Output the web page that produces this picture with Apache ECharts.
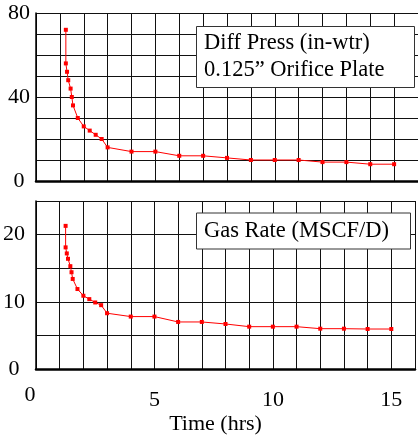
<!DOCTYPE html>
<html>
<head>
<meta charset="utf-8">
<script src="https://cdn.jsdelivr.net/npm/echarts@6/dist/echarts.min.js"></script>
<style>
  html, body { margin: 0; padding: 0; background: #fff; }
  #chart { width: 418px; height: 437px; }
</style>
</head>
<body>
<div id="chart"></div>
<script>
// time of each reading (hrs)
const timeHrs = [1.25, 1.25, 1.3, 1.35, 1.45, 1.5, 1.55, 1.75, 2, 2.25, 2.5, 2.75, 3,
                 4, 5, 6, 7, 8, 9, 10, 11, 12, 13, 14, 15];
const diffPress = [72, 56, 52, 48, 44, 40, 36, 30, 26, 24, 22, 20, 16,
                   14, 14, 12, 12, 11, 10, 10, 10, 9, 9, 8, 8];
const gasRate = [21.3, 18.1, 17.2, 16.4, 15.3, 14.4, 13.4, 11.9, 10.9, 10.4, 9.9, 9.5, 8.3,
                 7.8, 7.8, 7.0, 7.0, 6.7, 6.3, 6.3, 6.3, 6.0, 6.0, 5.95, 5.95];
const xTickLabels = [0, 5, 10, 15];
const pressTickLabels = [0, 40, 80];
const rateTickLabels = [0, 10, 20];

const FONT = 'Liberation Serif';
const chart = echarts.init(document.getElementById('chart'));

const pairs = (ys) => timeHrs.map((t, i) => [t, ys[i]]);

const gridLine = { show: true, lineStyle: { color: '#111', width: 1 } };

function xAxis(gridIndex, withLabels) {
    return {
        type: 'value', gridIndex: gridIndex,
        min: 0, max: 16, interval: 1,
        axisLine: { show: true, onZero: false, lineStyle: { color: '#000', width: 2.5 } },
        axisTick: { show: false },
        splitLine: gridLine,
        axisLabel: {
            show: withLabels,
            margin: 20,
            fontFamily: FONT, fontSize: 22, color: '#000',
            formatter: (v) => {
                if (v === 0) return '{z|0}';
                return xTickLabels.includes(v) ? String(v) : '';
            },
            rich: {
                z: { fontFamily: FONT, fontSize: 22, color: '#000', lineHeight: 12, padding: [0, 12, 0, 0] }
            }
        },
        name: withLabels ? 'Time (hrs)' : '',
        nameLocation: 'middle',
        nameGap: 44,
        nameMoveOverlap: false,
        nameTextStyle: { fontFamily: FONT, fontSize: 22, color: '#000', padding: [0, 20, 0, 0] }
    };
}

function yAxis(gridIndex, max, labels, margin) {
    return {
        type: 'value', gridIndex: gridIndex,
        min: 0, max: max, interval: max / (max === 80 ? 8 : 5),
        axisLine: { show: true, lineStyle: { color: '#000', width: 1.5 } },
        axisTick: { show: false },
        splitLine: gridLine,
        axisLabel: {
            margin: margin, align: 'center',
            fontFamily: FONT, fontSize: 22, color: '#000',
            formatter: (v) => labels.includes(v) ? String(v) : ''
        }
    };
}

const lineStyle = { color: '#ff0000', width: 1 };

chart.setOption({
    animation: false,
    backgroundColor: '#fff',
    title: [
        {
            text: 'Diff Press (in-wtr)\n0.125\u201D Orifice Plate',
            left: 196, top: 26,
            padding: [4, 30, 4, 8],
            backgroundColor: '#fff', borderColor: '#333', borderWidth: 1,
            textStyle: { fontFamily: FONT, fontSize: 22.5, fontWeight: 'normal', color: '#000', lineHeight: 27 }
        },
        {
            text: 'Gas Rate (MSCF/D)',
            left: 196, top: 213,
            padding: [4.5, 22, 4.5, 8],
            backgroundColor: '#fff', borderColor: '#333', borderWidth: 1,
            textStyle: { fontFamily: FONT, fontSize: 22.5, fontWeight: 'normal', color: '#000', lineHeight: 27 }
        }
    ],
    grid: [
        { left: 36, top: 13, width: 383, height: 168 },
        { left: 36, top: 201, width: 383, height: 168 }
    ],
    xAxis: [xAxis(0, false), xAxis(1, true)],
    yAxis: [yAxis(0, 80, pressTickLabels, 17), yAxis(1, 25, rateTickLabels, 22)],
    series: [
        {
            type: 'line', xAxisIndex: 0, yAxisIndex: 0,
            data: pairs(diffPress),
            symbol: 'rect', symbolSize: 4,
            lineStyle: lineStyle, itemStyle: { color: '#ff0000' }
        },
        {
            type: 'line', xAxisIndex: 1, yAxisIndex: 1,
            data: pairs(gasRate),
            symbol: 'rect', symbolSize: 4,
            lineStyle: lineStyle, itemStyle: { color: '#ff0000' }
        }
    ]
});
</script>
</body>
</html>
